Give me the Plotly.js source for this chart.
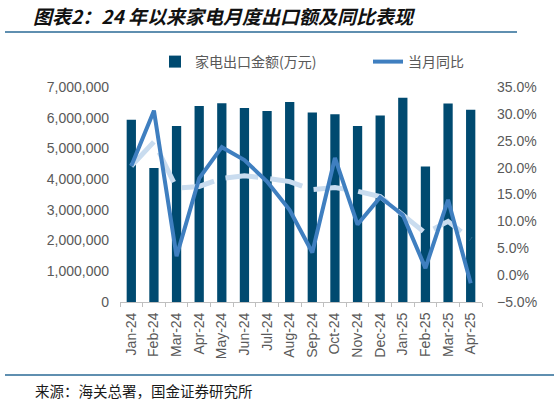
<!DOCTYPE html>
<html>
<head>
<meta charset="utf-8">
<script src="https://cdn.plot.ly/plotly-3.0.1.min.js"></script>
<style>
  html, body { margin: 0; padding: 0; background: #fff; }
  #chart { width: 559px; height: 404px; }
</style>
</head>
<body>
<div id="chart"></div>
<script>
  // 月份
  const months = ["Jan-24", "Feb-24", "Mar-24", "Apr-24", "May-24", "Jun-24", "Jul-24", "Aug-24",
    "Sep-24", "Oct-24", "Nov-24", "Dec-24", "Jan-25", "Feb-25", "Mar-25", "Apr-25"];

  // 家电出口金额(万元)
  const exportValue = [5930000, 4360000, 5730000, 6380000, 6470000, 6320000, 6220000, 6510000,
    6170000, 6110000, 5730000, 6070000, 6650000, 4410000, 6460000, 6260000];

  // 当月同比
  const yoy = [0.203, 0.306, 0.035, 0.180, 0.238, 0.214, 0.174, 0.121,
    0.042, 0.218, 0.094, 0.145, 0.112, 0.013, 0.140, -0.015];

  // 浅色虚线
  const yoyLight = [0.203, 0.248, 0.162, 0.165, 0.180, 0.185, 0.180, 0.174,
    0.159, 0.163, 0.156, 0.146, 0.112, 0.078, 0.100, 0.067];

  const FONT = "'Liberation Sans', Arial, 'Noto Sans CJK SC', sans-serif";
  const CJK = "'Noto Sans CJK SC', sans-serif";
  const GREY = "#595959";

  // px -> paper
  const px = (x) => (x - 120) / 362;
  const py = (y) => (302 - y) / 215;

  const traces = [
    {
      type: "bar",
      name: "家电出口金额(万元)",
      x: months,
      y: exportValue,
      marker: { color: "#004a70" },
      yaxis: "y",
      legend: "legend",
    },
    {
      type: "scatter",
      mode: "lines",
      name: "浅色",
      x: months,
      y: yoyLight,
      yaxis: "y2",
      line: { color: "#c9dcef", width: 5, dash: "33px,12px" },
      showlegend: false,
      hoverinfo: "skip",
    },
    {
      type: "scatter",
      mode: "lines",
      name: "当月同比",
      x: months,
      y: yoy,
      yaxis: "y2",
      line: { color: "#3f7fc0", width: 4 },
      legend: "legend2",
    },
  ];

  const legendBase = {
    orientation: "h",
    xanchor: "left",
    y: py(62), yanchor: "middle",
    font: { family: CJK, size: 14, color: GREY },
    bgcolor: "rgba(0,0,0,0)",
  };

  const layout = {
    width: 559,
    height: 404,
    margin: { l: 120, r: 77, t: 87, b: 102 },
    paper_bgcolor: "#fff",
    plot_bgcolor: "#fff",
    font: { family: FONT, size: 14, color: GREY },
    bargap: 0.59,
    showlegend: true,
    legend: Object.assign({}, legendBase, { x: px(155) }),
    legend2: Object.assign({}, legendBase, { x: px(368) }),
    title: {
      text: "<b><i>图表2：24 年以来家电月度出口额及同比表现</i></b>",
      x: 33 / 559, xanchor: "left", xref: "container",
      y: 1 - 17 / 404, yanchor: "middle", yref: "container",
      font: { family: CJK, size: 19, color: "#111" },
    },
    xaxis: {
      type: "category",
      tickangle: -90,
      showline: true,
      linecolor: "#bfbfbf",
      linewidth: 1,
      ticks: "outside",
      tickson: "boundaries",
      ticklen: 4,
      tickcolor: "#bfbfbf",
      showgrid: false,
      zeroline: false,
      tickfont: { family: FONT, size: 14, color: GREY },
      ticklabelstandoff: 4,
    },
    yaxis: {
      range: [0, 7000000],
      dtick: 1000000,
      tickformat: ",",
      showgrid: false,
      zeroline: false,
      showline: false,
      ticks: "",
      tickfont: { family: FONT, size: 14, color: GREY },
      ticklabelstandoff: 10,
    },
    yaxis2: {
      overlaying: "y",
      side: "right",
      range: [-0.05, 0.35],
      dtick: 0.05,
      tickformat: ".1%",
      showgrid: false,
      zeroline: false,
      showline: false,
      ticks: "",
      tickfont: { family: FONT, size: 14, color: GREY },
      ticklabelstandoff: 14,
    },
    shapes: [
      {
        type: "line", xref: "paper", yref: "paper",
        x0: px(5), x1: px(517), y0: py(32), y1: py(32),
        line: { color: "#2a6a96", width: 1.5 },
      },
      {
        type: "line", xref: "paper", yref: "paper",
        x0: px(5), x1: px(554), y0: py(375), y1: py(375),
        line: { color: "#2a6a96", width: 1.5 },
      },
    ],
    annotations: [
      {
        text: "来源：海关总署，国金证券研究所",
        xref: "paper", yref: "paper",
        x: px(33), xanchor: "left",
        y: py(390), yanchor: "middle",
        showarrow: false,
        font: { family: CJK, size: 14.5, color: "#1a1a1a" },
      },
    ],
  };

  Plotly.newPlot("chart", traces, layout, { displayModeBar: false, staticPlot: true });
</script>
</body>
</html>
